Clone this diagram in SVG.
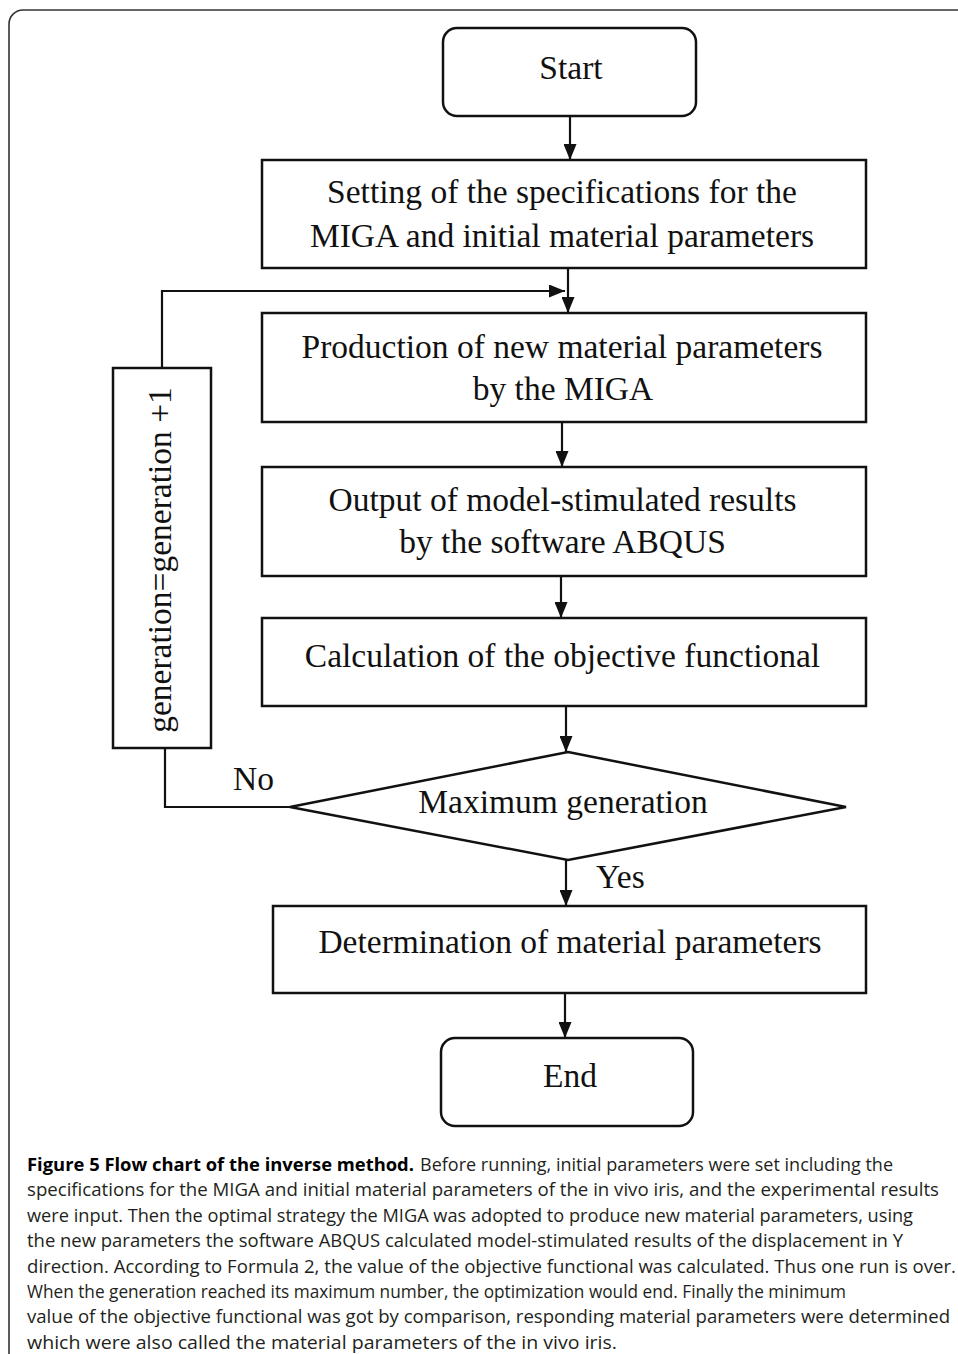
<svg xmlns="http://www.w3.org/2000/svg" width="958" height="1354" viewBox="0 0 958 1354">
<style>
.box{fill:#fff;stroke:#111;stroke-width:2.5}
.ln{fill:none;stroke:#111;stroke-width:2.2}
.t{font-family:"Liberation Serif","Times New Roman",serif;font-size:33.5px;fill:#111}
.c{text-anchor:middle}
.cap{font-family:"Open Sans","Liberation Sans",sans-serif;font-size:18px;fill:#231f20}
.capb{font-weight:bold;fill:#000}
</style>
<defs>
<marker id="ah" markerUnits="userSpaceOnUse" markerWidth="16" markerHeight="13" refX="16" refY="6.5" orient="auto">
<path d="M0,0 L16,6.5 L0,13 Z" fill="#111"/>
</marker>
</defs>
<rect width="958" height="1354" fill="#fff"/>
<path d="M9,1354 V24 A14,14 0 0 1 23,10 H958" fill="none" stroke="#333" stroke-width="1.6"/>

<g id="connectors">
<line class="ln" x1="570" y1="116" x2="570" y2="160" marker-end="url(#ah)"/>
<line class="ln" x1="568" y1="268" x2="568" y2="313" marker-end="url(#ah)"/>
<polyline class="ln" points="162,368 162,291 565,291" marker-end="url(#ah)"/>
<line class="ln" x1="562" y1="422" x2="562" y2="467" marker-end="url(#ah)"/>
<line class="ln" x1="561" y1="576" x2="561" y2="618" marker-end="url(#ah)"/>
<line class="ln" x1="566" y1="706" x2="566" y2="752" marker-end="url(#ah)"/>
<line class="ln" x1="566" y1="860" x2="566" y2="906" marker-end="url(#ah)"/>
<line class="ln" x1="565" y1="993" x2="565" y2="1038" marker-end="url(#ah)"/>
<polyline class="ln" points="290,807 165,807 165,748"/>
<text class="t" x="233" y="790">No</text>
<text class="t" x="596" y="888">Yes</text>
</g>

<g id="start">
<rect class="box" x="443" y="28" width="253" height="88" rx="14"/>
<text class="t c" x="571" y="79">Start</text>
</g>

<g id="setting">
<rect class="box" x="262" y="160" width="604" height="108"/>
<text class="t c" x="562" y="203">Setting of the specifications for the</text>
<text class="t c" x="562" y="247">MIGA and initial material parameters</text>
</g>

<g id="production">
<rect class="box" x="262" y="313" width="604" height="109"/>
<text class="t c" x="562" y="358">Production of new material parameters</text>
<text class="t c" x="563" y="400">by the MIGA</text>
</g>

<g id="output">
<rect class="box" x="262" y="467" width="604" height="109"/>
<text class="t c" x="562.5" y="511">Output of model-stimulated results</text>
<text class="t c" x="562.5" y="553">by the software ABQUS</text>
</g>

<g id="calculation">
<rect class="box" x="262" y="618" width="604" height="88"/>
<text class="t c" x="562.5" y="667">Calculation of the objective functional</text>
</g>

<g id="generation">
<rect class="box" x="113" y="368" width="98" height="380"/>
<text class="t c" transform="translate(171,560) rotate(-90)">generation=generation +1</text>
</g>

<g id="decision">
<polygon class="box" points="568,752 846,807 568,860 290,807"/>
<text class="t c" x="563" y="813">Maximum generation</text>
</g>

<g id="determination">
<rect class="box" x="273" y="906" width="593" height="87"/>
<text class="t c" x="570" y="953">Determination of material parameters</text>
</g>

<g id="end">
<rect class="box" x="441" y="1038" width="252" height="88" rx="14"/>
<text class="t c" x="570" y="1087">End</text>
</g>

<g id="caption">
<text class="cap capb" x="27" y="1171" textLength="387" lengthAdjust="spacingAndGlyphs">Figure 5 Flow chart of the inverse method.</text>
<text class="cap" x="420" y="1171" textLength="473" lengthAdjust="spacingAndGlyphs">Before running, initial parameters were set including the</text>
<text class="cap" x="27" y="1196.4" textLength="912" lengthAdjust="spacingAndGlyphs">specifications for the MIGA and initial material parameters of the in vivo iris, and the experimental results</text>
<text class="cap" x="27" y="1221.8" textLength="886" lengthAdjust="spacingAndGlyphs">were input. Then the optimal strategy the MIGA was adopted to produce new material parameters, using</text>
<text class="cap" x="27" y="1247.2" textLength="876" lengthAdjust="spacingAndGlyphs">the new parameters the software ABQUS calculated model-stimulated results of the displacement in Y</text>
<text class="cap" x="27" y="1272.6" textLength="929" lengthAdjust="spacingAndGlyphs">direction. According to Formula 2, the value of the objective functional was calculated. Thus one run is over.</text>
<text class="cap" x="27" y="1298" textLength="819" lengthAdjust="spacingAndGlyphs">When the generation reached its maximum number, the optimization would end. Finally the minimum</text>
<text class="cap" x="27" y="1323.4" textLength="923" lengthAdjust="spacingAndGlyphs">value of the objective functional was got by comparison, responding material parameters were determined</text>
<text class="cap" x="27" y="1348.5" textLength="590" lengthAdjust="spacingAndGlyphs">which were also called the material parameters of the in vivo iris.</text>
</g>
</svg>
